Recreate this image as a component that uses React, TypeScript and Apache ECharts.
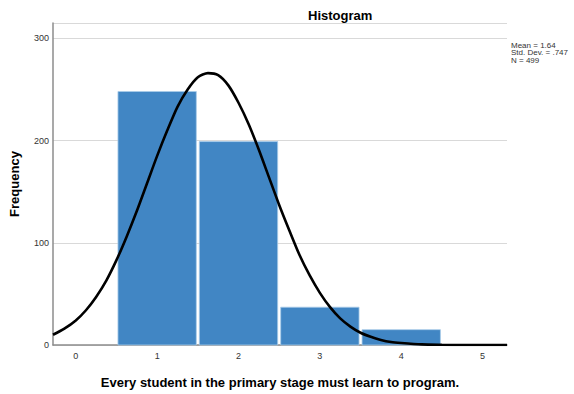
import React, { useEffect, useRef } from "react";
import * as echarts from "echarts";

// Histogram bins (category value) and frequencies
const binValues = [1, 2, 3, 4];
const binCounts = [248, 199, 37, 15];

// Normal curve overlay
const curveX = [-0.28, -0.14, 0, 0.125, 0.25, 0.375, 0.5, 0.625, 0.75, 0.875, 1, 1.125, 1.25, 1.375, 1.5, 1.625, 1.75, 1.875, 2, 2.125, 2.25, 2.375, 2.5, 2.625, 2.75, 2.875, 3, 3.125, 3.25, 3.375, 3.5, 3.625, 3.75, 3.875, 4, 4.25, 4.5, 4.75, 5, 5.3];
const curveY = [10, 16, 24, 34, 47, 63, 83, 106, 131, 158, 185, 210, 233, 250, 262, 266, 264, 254, 237, 216, 191, 164, 137, 112, 88, 68, 51, 37, 26, 18, 12, 8, 5, 3, 2, 0.6, 0.2, 0, 0, 0];

const xTickLabels = [0, 1, 2, 3, 4, 5];
const statLines = ["Mean = 1.64", "Std. Dev. = .747", "N = 499"];

const FONT = "'Liberation Sans', Arial, sans-serif";

export default function App() {
  const ref = useRef<HTMLDivElement>(null);
  useEffect(() => {
    if (!ref.current) return;
    const chart = echarts.init(ref.current, undefined, { renderer: "svg" });
    const barData = binValues.map((v, i) => [v, binCounts[i]]);
    const lineData = curveX.map((x, i) => [x, curveY[i]]);
    chart.setOption({
      animation: false,
      backgroundColor: "#ffffff",
      textStyle: { fontFamily: FONT },
      title: {
        text: "Histogram",
        left: 303,
        top: 4,
        textStyle: { fontFamily: FONT, fontSize: 13, fontWeight: "bold", color: "#000" },
      },
      grid: { left: 48, right: 67, top: 23, bottom: 44 },
      xAxis: {
        type: "value",
        min: -0.28,
        max: 5.3,
        name: "Every student in the primary stage must learn to program.",
        nameLocation: "middle",
        nameGap: 31,
        nameTextStyle: { fontFamily: FONT, fontSize: 13, fontWeight: "bold", color: "#000" },
        axisLine: { show: true, onZero: false, lineStyle: { color: "#8c8c8c", width: 1.5 } },
        axisTick: { show: false },
        splitLine: { show: false },
        axisLabel: {
          customValues: xTickLabels,
          fontFamily: FONT,
          fontSize: 9,
          color: "#333",
          margin: 6,
        },
      },
      yAxis: {
        type: "value",
        min: 0,
        max: 315,
        interval: 100,
        name: "Frequency",
        nameLocation: "middle",
        nameGap: 32,
        nameTextStyle: { fontFamily: FONT, fontSize: 13, fontWeight: "bold", color: "#000" },
        axisLine: { show: true, onZero: false, lineStyle: { color: "#8c8c8c", width: 1.5 } },
        axisTick: { show: false },
        splitLine: { show: true, lineStyle: { color: "#d9d9d9", width: 1 } },
        axisLabel: { fontFamily: FONT, fontSize: 9, color: "#333", margin: 4, showMaxLabel: false },
      },
      graphic: statLines.map((t, i) => ({
        type: "text",
        left: 511,
        top: 41 + i * 7.6,
        style: { text: t, fontFamily: FONT, fontSize: 8, fill: "#333" },
      })),
      series: [
        {
          type: "custom",
          data: barData,
          z: 2,
          renderItem: (params: any, api: any) => {
            const v = api.value(0);
            const c = api.value(1);
            const p0 = api.coord([v - 0.5, c]);
            const p1 = api.coord([v + 0.5, 0]);
            return {
              type: "rect",
              shape: { x: p0[0] + 1.5, y: p0[1], width: p1[0] - p0[0] - 3, height: p1[1] - p0[1] },
              style: { fill: "#4186c4", stroke: "#a9cbe8", lineWidth: 0.8 },
            };
          },
        },
        {
          type: "line",
          data: lineData,
          smooth: 0.25,
          showSymbol: false,
          symbol: "none",
          z: 3,
          lineStyle: { color: "#000", width: 2.6 },
        },
      ],
    });
    return () => chart.dispose();
  }, []);
  return <div ref={ref} style={{ position: "fixed", left: 0, top: 0, width: 574, height: 394 }} />;
}
